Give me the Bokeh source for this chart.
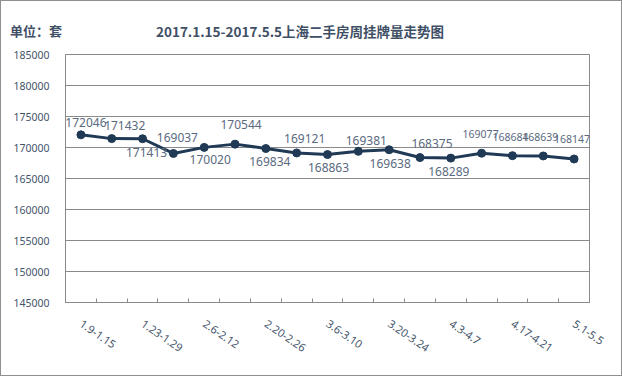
from bokeh.plotting import figure
from bokeh.layouts import column
from bokeh.models import ColumnDataSource, FixedTicker, Range1d, Div
from bokeh.core.properties import value
from bokeh.embed import file_html
from bokeh.resources import INLINE

# ---- data ----
weeks = ["1.9-1.15", "1.16-1.22", "1.23-1.29", "1.30-2.5", "2.6-2.12", "2.13-2.19",
         "2.20-2.26", "2.27-3.5", "3.6-3.10", "3.13-3.17", "3.20-3.24", "3.27-3.31",
         "4.3-4.7", "4.10-4.14", "4.17-4.21", "4.24-4.28", "5.1-5.5"]
listings = [172046, 171432, 171413, 169037, 170020, 170544, 169834, 169121, 168863,
            169381, 169638, 168375, 168289, 169077, 168684, 168639, 168147]
y_ticks = [145000, 150000, 155000, 160000, 165000, 170000, 175000, 180000, 185000]
title_text = "2017.1.15-2017.5.5上海二手房周挂牌量走势图"
unit_text = "单位：套"

# ---- label styling (offsets in px, font sizes) ----
lab_dx = [5, 13, 4, 4, 6, 6, 4, 8, 1, 8, 1, 12, -2, -1, -2, -3, -2]
lab_dy = [-12, -13, 14, -16, 12, -20, 13, -14, 13, -11, 14, -14, 13, -19, -19, -19, -20]
lab_fs = ["12px"] * 13 + ["10.5px", "10.5px", "10.5px", "10.5px"]

W, H, HEAD = 622, 376, 44
BORDER = "1px solid #8f8f8f"

# ---- header (title row) ----
head_html = (
    '<div style="position:relative;width:620px;height:43px;'
    'font-family:\'Noto Sans CJK SC\',sans-serif;font-weight:bold;color:#3f4f66;">'
    '<span style="position:absolute;left:9px;top:20px;line-height:20px;font-size:13px;">'
    + unit_text + '</span>'
    '<span style="position:absolute;left:155px;top:20px;line-height:20px;font-size:13.5px;'
    'white-space:nowrap;">' + title_text + '</span></div>'
)
head = Div(text=head_html, width=W, height=HEAD,
           styles={"border-top": BORDER, "border-left": BORDER, "border-right": BORDER,
                   "box-sizing": "border-box", "background": "white", "margin": "0",
                   "padding": "0", "overflow": "hidden"})

# ---- main chart ----
xs = list(range(len(weeks)))
src = ColumnDataSource(dict(x=xs, y=listings, lab=[str(v) for v in listings],
                            dx=lab_dx, dy=lab_dy, fs=lab_fs))

p = figure(width=W, height=H - HEAD, output_backend="svg", toolbar_location=None,
           x_range=Range1d(-0.5, len(weeks) - 0.5),
           y_range=Range1d(y_ticks[0], y_ticks[-1]),
           min_border_left=64, min_border_right=34, min_border_top=10, min_border_bottom=74)
p.styles = {"border-bottom": BORDER, "border-left": BORDER, "border-right": BORDER,
            "box-sizing": "border-box"}
p.background_fill_color = "white"
p.border_fill_color = "white"
p.outline_line_color = "#8a8a8a"
p.outline_line_width = 1

# y axis
p.yaxis.ticker = FixedTicker(ticks=y_ticks)
p.yaxis.major_label_overrides = {v: str(v) for v in y_ticks}
p.yaxis.major_label_text_font = "Noto Sans"
p.yaxis.major_label_text_font_size = "10.5px"
p.yaxis.major_label_text_color = "#44546a"
p.yaxis.axis_line_color = "#8a8a8a"
p.yaxis.major_tick_line_color = None
p.yaxis.minor_tick_line_color = None
p.yaxis.major_label_standoff = 10
p.ygrid.ticker = FixedTicker(ticks=y_ticks)
p.ygrid.grid_line_color = "#8a8a8a"
p.ygrid.grid_line_width = 1
p.xgrid.grid_line_color = None

# x axis: labels at every other week, tick marks on week boundaries
major = xs[::2]
p.xaxis.ticker = FixedTicker(ticks=major, minor_ticks=[i - 0.5 for i in range(len(weeks) + 1)])
p.xaxis.major_label_overrides = {i: weeks[i] for i in major}
p.xaxis.major_tick_line_color = None
p.xaxis.minor_tick_line_color = "#8a8a8a"
p.xaxis.minor_tick_in = 4
p.xaxis.minor_tick_out = 0
p.xaxis.axis_line_color = "#8a8a8a"
p.xaxis.major_label_orientation = -0.6
p.xaxis.major_label_standoff = 14
p.xaxis.major_label_text_font = "Noto Sans"
p.xaxis.major_label_text_font_size = "11px"
p.xaxis.major_label_text_color = "#44546a"

# line + markers
p.line("x", "y", source=src, line_color="#203a56", line_width=3)
p.scatter("x", "y", source=src, size=8, fill_color="#203a56", line_color="#203a56")

# data labels
p.text("x", "y", text="lab", source=src, x_offset="dx", y_offset="dy",
       text_align="center", text_baseline="middle", text_font=value("Noto Sans"),
       text_font_size="fs", text_color="#5a6a80")

layout = column(head, p, spacing=0)
open("out.html", "w").write(file_html(layout, INLINE))
